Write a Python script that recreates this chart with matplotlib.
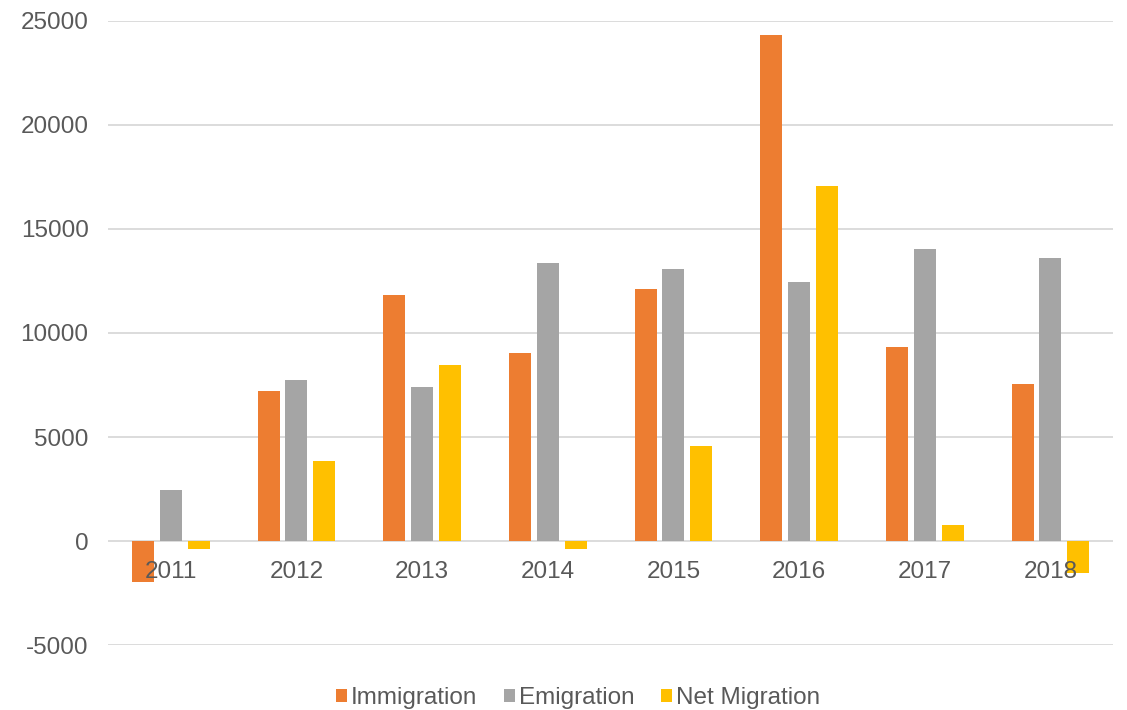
import numpy as np
import matplotlib.pyplot as plt
from matplotlib.transforms import offset_copy

years = ["2011", "2012", "2013", "2014", "2015", "2016", "2017", "2018"]
immigration = [-1970, 7210, 11830, 9040, 12120, 24330, 9330, 7550]
emigration = [2450, 7740, 7400, 13370, 13080, 12450, 14040, 13610]
net_migration = [-390, 3850, 8460, -390, 4570, 17070, 770, -1540]

series = [
    ("Immigration", immigration, "#ED7D31"),
    ("Emigration", emigration, "#A5A5A5"),
    ("Net Migration", net_migration, "#FFC000"),
]

plt.rcParams["font.family"] = ["Liberation Sans", "DejaVu Sans"]
plt.rcParams["axes.unicode_minus"] = False

fig = plt.figure(figsize=(11.27, 7.10), dpi=100)
ax = fig.add_axes([0.0958, 0.0915, 0.892, 0.879])

x = np.arange(len(years))
width = 0.175
step = 0.222
for i, (name, vals, color) in enumerate(series):
    ax.bar(x + (i - 1) * step, vals, width, color=color, label=name, zorder=2)

ax.set_xlim(-0.5, len(years) - 0.5)
ax.set_ylim(-5000, 25000)
ax.set_yticks(np.arange(-5000, 25001, 5000))
ax.set_xticks([])

ax.grid(axis="y", color="#D9D9D9", linewidth=1.3)
ax.set_axisbelow(True)
for s in ax.spines.values():
    s.set_visible(False)

ax.tick_params(axis="both", length=0, labelsize=17.5, labelcolor="#595959")
ax.tick_params(axis="y", pad=14)

# category labels sit just under the zero line, on top of the bars
trans = offset_copy(ax.transData, fig=fig, x=0, y=-20, units="dots")
for xi, yr in zip(x, years):
    ax.text(xi, 0, yr, transform=trans, ha="center", va="top",
            fontsize=17.5, color="#595959", zorder=5)

fig.legend(loc="lower center", bbox_to_anchor=(0.513, -0.03), ncol=3, frameon=False,
           fontsize=17.5, labelcolor="#595959", handlelength=0.45, handleheight=0.45,
           handletextpad=0.15, columnspacing=1.1)

fig.savefig("out.png", dpi=100)
